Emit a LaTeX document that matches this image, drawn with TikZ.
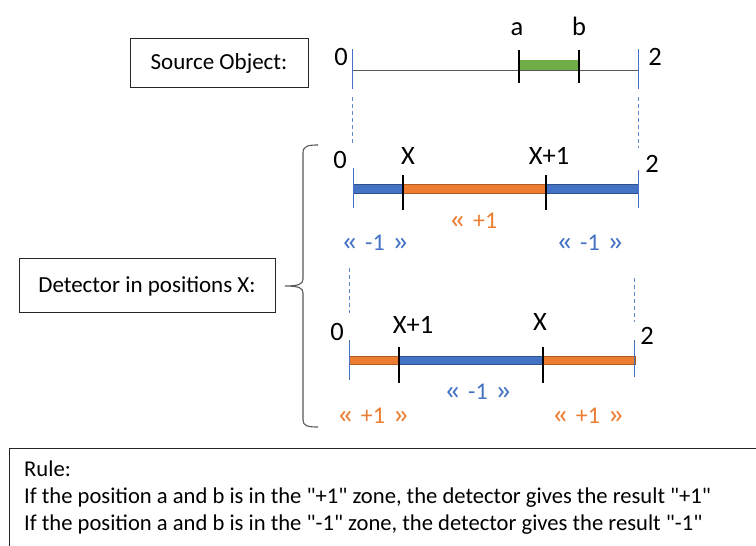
\documentclass[tikz,border=0pt]{standalone}
\usepackage{fontspec}
\setmainfont{Carlito}[Ligatures=TeXOff]
\definecolor{myblue}{HTML}{4472C4}
\definecolor{myblueD}{HTML}{2F528F}
\definecolor{myorange}{HTML}{ED7D31}
\definecolor{myorangeD}{HTML}{AE5A21}
\definecolor{mygreen}{HTML}{70AD47}
\definecolor{linegray}{HTML}{595959}
\newcommand{\gl}{\scalebox{1.4}[1.15]{«}}
\newcommand{\gr}{\scalebox{1.4}[1.15]{»}}
\newcommand{\zs}{\hspace{0.3em}}
\begin{document}
\begin{tikzpicture}[x=1pt,y=-1pt,
  every node/.style={inner sep=0pt},
  boxfont/.style={font=\fontsize{23}{27}\selectfont},
  lbl/.style={anchor=base, font=\fontsize{26.5}{30}\selectfont},
  bluelbl/.style={anchor=base, text=myblue, font=\fontsize{24}{28}\selectfont},
  orangelbl/.style={anchor=base, text=myorange, font=\fontsize{24}{28}\selectfont},
  ruletext/.style={anchor=base west, font=\fontsize{22.6}{26}\selectfont},
  framebox/.style={draw=black!85, line width=0.8pt},
  blacktick/.style={draw=black, line width=2.6pt},
  bound/.style={draw=myblue, line width=0.6pt},
  guide/.style={draw=myblue!85, line width=0.9pt, dash pattern=on 4pt off 3pt},
  bluebar/.style={fill=myblue, draw=myblueD, line width=0.8pt},
  orangebar/.style={fill=myorange, draw=myorangeD, line width=0.8pt},
  bracestyle/.style={draw=linegray, line width=1.1pt}
]
\useasboundingbox (0,0) rectangle (756,546);
\fill[white] (0,0) rectangle (756,546);

% ---- boxes on the left
\draw[framebox] (130,38) rectangle (308,87);
\node[boxfont, anchor=base] (srctxt) at (219,69) {Source Object:};
\draw[framebox] (19,258) rectangle (275,312);
\node[boxfont, anchor=base] (dettxt) at (147,292) {Detector in positions X:};

% ---- brace
\coordinate (brtop) at (318,145);
\coordinate (brtip) at (285,286);
\coordinate (brbot) at (318,427);
\draw[bracestyle] (brtop) .. controls (308,145) and (303,146) .. (303,153)
  -- (303,279) .. controls (303,284) and (299,286) .. (brtip)
  (brtip) .. controls (299,286) and (303,288) .. (303,293)
  -- (303,420) .. controls (303,426) and (308,427) .. (brbot);

% ---- source object line
\coordinate (s0) at (352,70);
\coordinate (s2) at (638,70);
\draw[draw=linegray, line width=0.8pt] (s0) -- (s2);
\fill[mygreen] (519,60) rectangle (579,69.5);
\coordinate (ta1) at (519,50); \coordinate (ta2) at (519,83);
\coordinate (tb1) at (579,50); \coordinate (tb2) at (579,83);
\draw[blacktick] (ta1) -- (ta2);
\draw[blacktick] (tb1) -- (tb2);
\coordinate (sb0a) at (352,49); \coordinate (sb0b) at (352,89);
\coordinate (sb2a) at (638,49); \coordinate (sb2b) at (638,89);
\draw[bound] (sb0a) -- (sb0b);
\draw[bound] (sb2a) -- (sb2b);
\node[lbl] (l0a) at (341,65) {0};
\node[lbl] (l2a) at (655,65) {2};
\node[lbl] (la) at (517,35) {a};
\node[lbl] (lb) at (579,35) {b};

% ---- guides between source and detector 1
\coordinate (g1a) at (352,97); \coordinate (g1b) at (352,143);
\coordinate (g2a) at (638,97); \coordinate (g2b) at (638,148);
\draw[guide] (g1a) -- (g1b);
\draw[guide] (g2a) -- (g2b);

% ---- detector 1
\draw[bluebar] (353,184) rectangle (403,193);
\draw[orangebar] (403,184) rectangle (546,193);
\draw[bluebar] (546,184) rectangle (638,193);
\coordinate (d1x1) at (403,175); \coordinate (d1x2) at (403,210);
\coordinate (d1y1) at (546,175); \coordinate (d1y2) at (546,210);
\draw[blacktick] (d1x1) -- (d1x2);
\draw[blacktick] (d1y1) -- (d1y2);
\coordinate (d1b0a) at (353,168); \coordinate (d1b0b) at (353,208);
\coordinate (d1b2a) at (638,170); \coordinate (d1b2b) at (638,208);
\draw[bound] (d1b0a) -- (d1b0b);
\draw[bound] (d1b2a) -- (d1b2b);
\node[lbl] (d1l0) at (340,168) {0};
\node[lbl] (d1lX) at (408,164) {X};
\node[lbl] (d1lX1) at (549,164) {X+1};
\node[lbl] (d1l2) at (652,172) {2};
\node[orangelbl] (d1plus) at (473,228) {\gl\zs+1};
\node[bluelbl] (d1mA) at (375,250) {\gl\zs-1\zs\gr};
\node[bluelbl] (d1mB) at (590,250) {\gl\zs-1\zs\gr};

% ---- guides between detector 1 and detector 2
\coordinate (g3a) at (349,268); \coordinate (g3b) at (349,313);
\coordinate (g4a) at (634,278); \coordinate (g4b) at (634,322);
\draw[guide] (g3a) -- (g3b);
\draw[guide] (g4a) -- (g4b);

% ---- detector 2
\draw[orangebar] (349,356) rectangle (399,364);
\draw[bluebar] (399,356) rectangle (543,364);
\draw[orangebar] (543,356) rectangle (635,364);
\coordinate (d2x1) at (399,347); \coordinate (d2x2) at (399,383);
\coordinate (d2y1) at (543,347); \coordinate (d2y2) at (543,383);
\draw[blacktick] (d2x1) -- (d2x2);
\draw[blacktick] (d2y1) -- (d2y2);
\coordinate (d2b0a) at (349,340); \coordinate (d2b0b) at (349,380);
\coordinate (d2b2a) at (634,340); \coordinate (d2b2b) at (634,377);
\draw[bound] (d2b0a) -- (d2b0b);
\draw[bound] (d2b2a) -- (d2b2b);
\node[lbl] (d2l0) at (337,340) {0};
\node[lbl] (d2lX1) at (413,333) {X+1};
\node[lbl] (d2lX) at (540,330) {X};
\node[lbl] (d2l2) at (647,344) {2};
\node[bluelbl] (d2minus) at (478,399) {\gl\zs-1\zs\gr};
\node[orangelbl] (d2pA) at (373,423) {\gl\zs+1\zs\gr};
\node[orangelbl] (d2pB) at (588,423) {\gl\zs+1\zs\gr};

% ---- rule box
\coordinate (rbl) at (9,548);
\coordinate (rtl) at (9,448);
\coordinate (rtr) at (758,448);
\draw[framebox] (rbl) -- (rtl) -- (rtr);
\node[ruletext] (rule0) at (24,476) {Rule:};
\node[ruletext] (rule1) at (24,503) {If the position a and b is in the "+1" zone, the detector gives the result "+1"};
\node[ruletext] (rule2) at (24,530) {If the position a and b is in the "-1" zone, the detector gives the result "-1"};
\end{tikzpicture}
\end{document}
